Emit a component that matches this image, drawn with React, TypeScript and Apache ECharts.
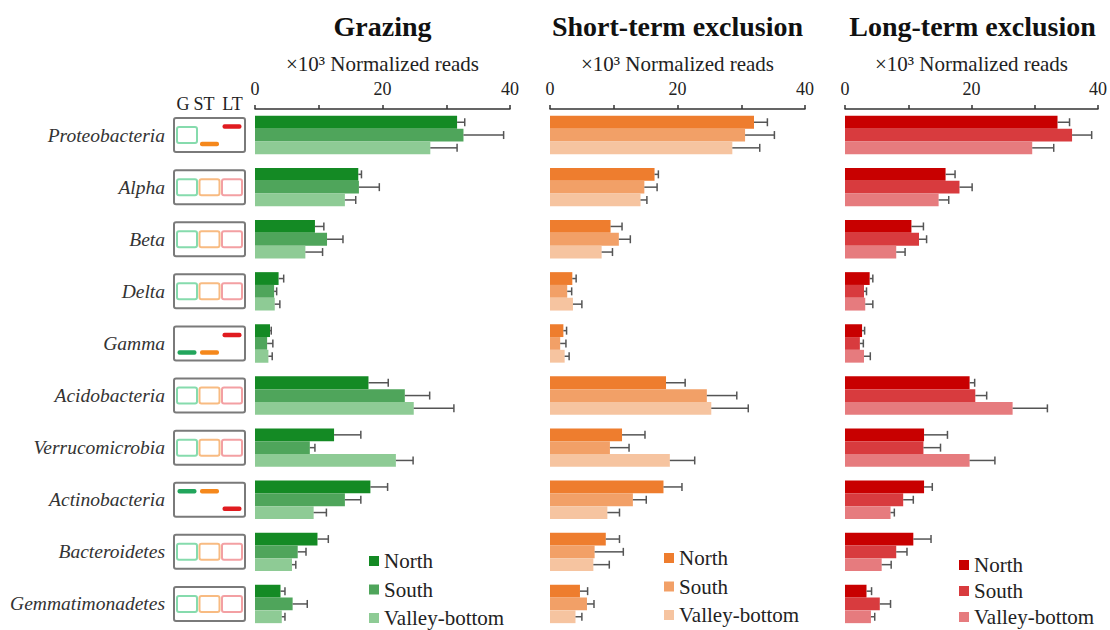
import { useEffect, useRef } from "react";
import * as echarts from "echarts";

const categories = [
  "Proteobacteria",
  "Alpha",
  "Beta",
  "Delta",
  "Gamma",
  "Acidobacteria",
  "Verrucomicrobia",
  "Actinobacteria",
  "Bacteroidetes",
  "Gemmatimonadetes",
];
const treatments = ["Grazing", "Short-term exclusion", "Long-term exclusion"];
const regions = ["North", "South", "Valley-bottom"];
const tickLabels = [0, 20, 40];

// Means and standard errors, ×10³ normalized reads
const grazingNorth = [31.7, 16.2, 9.4, 3.7, 2.35, 17.8, 12.4, 18.1, 9.8, 4.0];
const grazingNorthSE = [1.2, 0.5, 1.4, 0.8, 0.2, 3.1, 4.2, 2.7, 1.7, 0.7];
const grazingSouth = [32.7, 16.3, 11.3, 3.0, 1.9, 23.5, 8.6, 14.1, 6.7, 5.9];
const grazingSouthSE = [6.3, 3.2, 2.5, 0.4, 0.9, 3.9, 0.8, 2.5, 1.3, 2.3];
const grazingValley = [27.5, 14.1, 7.9, 3.1, 2.1, 24.9, 22.1, 9.2, 5.8, 4.2];
const grazingValleySE = [4.2, 1.7, 2.7, 0.8, 0.6, 6.3, 2.7, 2.0, 0.6, 0.5];

const shortNorth = [32.0, 16.4, 9.5, 3.5, 2.1, 18.2, 11.3, 17.8, 8.75, 4.7];
const shortNorthSE = [2.1, 0.6, 1.8, 0.6, 0.5, 3.0, 3.6, 2.9, 2.15, 1.2];
const shortSouth = [30.6, 14.8, 10.8, 2.7, 1.6, 24.6, 9.4, 13.0, 7.0, 5.8];
const shortSouthSE = [4.6, 2.0, 1.8, 0.7, 0.9, 4.7, 3.0, 2.1, 4.5, 1.1];
const shortValley = [28.6, 14.2, 8.1, 3.6, 2.3, 25.3, 18.8, 9.0, 6.8, 4.0];
const shortValleySE = [4.3, 1.0, 1.7, 1.4, 0.7, 5.8, 3.9, 1.9, 2.5, 1.0];

const longNorth = [33.6, 15.9, 10.5, 3.9, 2.7, 19.7, 12.5, 12.5, 10.8, 3.4];
const longNorthSE = [1.9, 1.5, 1.9, 0.5, 0.4, 0.8, 3.7, 1.3, 2.8, 0.8];
const longSouth = [35.9, 18.1, 11.7, 3.0, 2.35, 20.6, 12.4, 9.2, 8.1, 5.5];
const longSouthSE = [3.1, 2.0, 1.2, 0.4, 0.55, 1.8, 2.7, 1.6, 1.7, 1.7];
const longValley = [29.6, 14.8, 8.1, 3.2, 3.0, 26.5, 19.7, 7.2, 5.8, 4.1];
const longValleySE = [3.4, 1.6, 1.4, 1.2, 1.0, 5.5, 4.0, 0.6, 1.5, 0.6];

// Abundance pattern icon per taxon: G / ST / LT ("box" = no difference, "high"/"low" = level)
const patternG = ["box", "box", "box", "box", "low", "box", "box", "high", "box", "box"];
const patternST = ["low", "box", "box", "box", "low", "box", "box", "high", "box", "box"];
const patternLT = ["high", "box", "box", "box", "high", "box", "box", "low", "box", "box"];
const iconHeader = ["G", "ST", "LT"];

const means = [
  [grazingNorth, grazingSouth, grazingValley],
  [shortNorth, shortSouth, shortValley],
  [longNorth, longSouth, longValley],
];
const errors = [
  [grazingNorthSE, grazingSouthSE, grazingValleySE],
  [shortNorthSE, shortSouthSE, shortValleySE],
  [longNorthSE, longSouthSE, longValleySE],
];

const palettes = [
  ["#148a24", "#4fa55b", "#8ecb95"],
  ["#ee7d2e", "#f2a067", "#f6c4a0"],
  ["#c80000", "#d83b3e", "#e67b7e"],
];
const outlineColors = ["#86dbad", "#f8bb82", "#f3a0a3"];
const solidColors = ["#22a55c", "#f5881c", "#e01b1f"];

const FONT = "'Liberation Serif', 'Times New Roman', serif";
const BAR_W = 12.8;
const GRID_LEFT = [255, 550, 845];
const GRID_WIDTH = 255;
const GRID_TOP = 109;
const GRID_HEIGHT = 524;
const LEGEND_X = [369, 664, 959];
const LEGEND_Y = [561, 558, 565];
const LEGEND_STEP = [28.5, 28.5, 26];

export default function App() {
  const ref = useRef<HTMLDivElement>(null);

  useEffect(() => {
    if (!ref.current) return;
    const chart = echarts.init(ref.current, null, { renderer: "svg" });

    const grids = GRID_LEFT.map((left) => ({
      left,
      top: GRID_TOP,
      width: GRID_WIDTH,
      height: GRID_HEIGHT,
      containLabel: false,
    }));

    const xAxes = GRID_LEFT.map((_, i) => ({
      type: "value",
      gridIndex: i,
      position: "top",
      min: 0,
      max: 40,
      interval: 10,
      name: "×10³ Normalized reads",
      nameLocation: "middle",
      nameGap: 35,
      nameTextStyle: { fontFamily: FONT, fontSize: 21, color: "#222" },
      axisLine: { show: true, lineStyle: { color: "#333", width: 1.5 } },
      axisTick: { show: true, length: 4, lineStyle: { color: "#333", width: 1.5 } },
      axisLabel: {
        customValues: tickLabels,
        fontFamily: FONT,
        fontSize: 18,
        color: "#222",
        margin: 11,
      },
      splitLine: { show: false },
    }));

    const yAxes = GRID_LEFT.map((_, i) => ({
      type: "category",
      gridIndex: i,
      data: categories,
      inverse: true,
      axisLine: { show: false },
      axisTick: { show: false },
      axisLabel: {
        show: i === 0,
        margin: 90,
        fontFamily: FONT,
        fontStyle: "italic",
        fontSize: 19.5,
        color: "#333",
      },
    }));

    const series: any[] = [];
    for (let p = 0; p < 3; p++) {
      for (let g = 0; g < 3; g++) {
        series.push({
          type: "bar",
          name: `${treatments[p]} ${regions[g]}`,
          xAxisIndex: p,
          yAxisIndex: p,
          data: means[p][g],
          barWidth: BAR_W,
          barGap: "0%",
          itemStyle: { color: palettes[p][g] },
          z: 2,
        });
      }
      const errData: number[][] = [];
      for (let g = 0; g < 3; g++) {
        means[p][g].forEach((m, c) => errData.push([m, c, errors[p][g][c], g]));
      }
      series.push({
        type: "custom",
        name: `${treatments[p]} SE`,
        xAxisIndex: p,
        yAxisIndex: p,
        data: errData,
        encode: { x: 0, y: 1 },
        z: 3,
        renderItem: (_params: any, api: any) => {
          const m = api.value(0);
          const c = api.value(1);
          const se = api.value(2);
          const g = api.value(3);
          const p0 = api.coord([m, c]);
          const p1 = api.coord([m + se, c]);
          const y = p0[1] + (g - 1) * BAR_W;
          const style = { stroke: "#555", lineWidth: 1.5 };
          return {
            type: "group",
            children: [
              { type: "line", shape: { x1: p0[0], y1: y, x2: p1[0], y2: y }, style },
              { type: "line", shape: { x1: p1[0], y1: y - 4, x2: p1[0], y2: y + 4 }, style },
            ],
          };
        },
      });
    }

    const titles = treatments.map((t, i) => ({
      text: t,
      left: GRID_LEFT[i] + GRID_WIDTH / 2,
      textAlign: "center",
      top: 12,
      padding: 0,
      textStyle: { fontFamily: FONT, fontSize: 28, fontWeight: "bold", color: "#111" },
    }));

    chart.setOption({
      animation: false,
      backgroundColor: "#fff",
      title: titles,
      grid: grids,
      xAxis: xAxes,
      yAxis: yAxes,
      series,
    });

    // Icon boxes beside the taxon names, and the legends of each panel
    const graphic: any[] = [];
    iconHeader.forEach((h, k) => {
      graphic.push({
        type: "text",
        x: [183, 204, 232.5][k],
        y: 104,
        style: {
          text: h,
          font: `18px ${FONT}`,
          fill: "#222",
          align: "center",
          verticalAlign: "middle",
        },
      });
    });
    const patterns = [patternG, patternST, patternLT];
    categories.forEach((_, c) => {
      const cy = chart.convertToPixel({ gridIndex: 0 }, [0, c])[1];
      const children: any[] = [
        {
          type: "rect",
          shape: { x: 174, y: cy - 17, width: 71, height: 34, r: 2 },
          style: { fill: "#fff", stroke: "#7a7a7a", lineWidth: 2 },
        },
      ];
      for (let k = 0; k < 3; k++) {
        const x0 = 177 + k * 22.5;
        const kind = patterns[k][c];
        if (kind === "box") {
          children.push({
            type: "rect",
            shape: { x: x0, y: cy - 8, width: 20, height: 16, r: 2 },
            style: { fill: "none", stroke: outlineColors[k], lineWidth: 2 },
          });
        } else {
          const ly = kind === "high" ? cy - 8.5 : cy + 9;
          children.push({
            type: "rect",
            shape: { x: x0 + 0.5, y: ly - 2.2, width: 19, height: 4.4, r: 2 },
            style: { fill: solidColors[k] },
          });
        }
      }
      graphic.push({ type: "group", children });
    });
    for (let p = 0; p < 3; p++) {
      regions.forEach((r, g) => {
        const y = LEGEND_Y[p] + g * LEGEND_STEP[p];
        graphic.push({
          type: "rect",
          shape: { x: LEGEND_X[p], y: y - 5, width: 10, height: 10 },
          style: { fill: palettes[p][g] },
        });
        graphic.push({
          type: "text",
          x: LEGEND_X[p] + 15,
          y,
          style: {
            text: r,
            font: `21px ${FONT}`,
            fill: "#222",
            verticalAlign: "middle",
          },
        });
      });
    }
    chart.setOption({ graphic });

    return () => chart.dispose();
  }, []);

  return (
    <div
      ref={ref}
      style={{ position: "absolute", left: 0, top: 0, width: 1110, height: 630 }}
    />
  );
}
